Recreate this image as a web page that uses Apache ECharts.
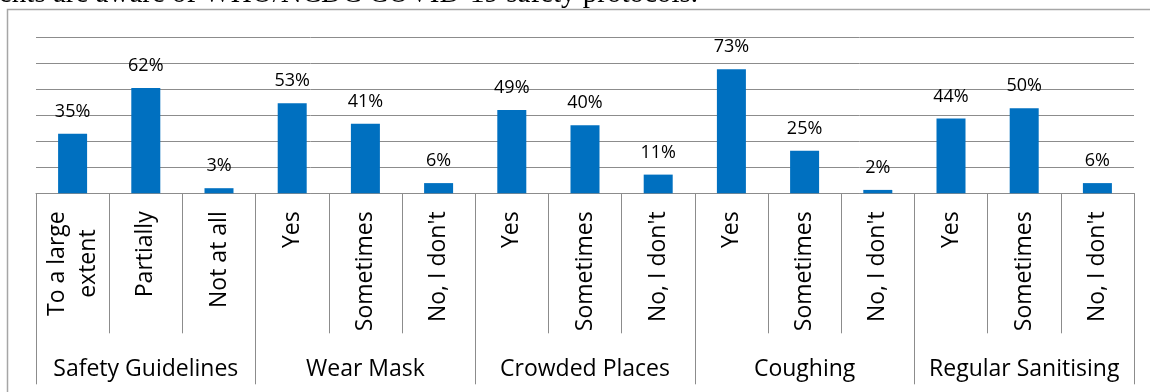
<!DOCTYPE html>
<html>
<head>
<meta charset="utf-8">
<title>COVID-19 safety protocols</title>
<script src="https://cdn.jsdelivr.net/npm/echarts@6/dist/echarts.min.js"></script>
<style>
  html, body { margin: 0; padding: 0; background: #fff; }
  #chart { width: 1150px; height: 392px; }
</style>
</head>
<body>
<div id="chart"></div>
<script>
// Protocol groups and the answers given under each one
const groups = ['Safety Guidelines', 'Wear Mask', 'Crowded Places', 'Coughing', 'Regular Sanitising'];
const answers = [
  'To a large\nextent', 'Partially', 'Not at all',
  'Yes', 'Sometimes', 'No, I don\'t',
  'Yes', 'Sometimes', 'No, I don\'t',
  'Yes', 'Sometimes', 'No, I don\'t',
  'Yes', 'Sometimes', 'No, I don\'t'
];
// Share of respondents (%) for each answer
const shares = [35, 62, 3, 53, 41, 6, 49, 40, 11, 73, 25, 2, 44, 50, 6];

const captionTail = 'ents are aware of WHO/NCDC COVID-19 safety protocols.';

const FONT = '"Open Sans", "Noto Sans", sans-serif';
const GRID_COLOR = '#8c8c8c';

// Wrapped answers get their lines centred on each other
function answerLabel(value) {
  if (value.indexOf('\n') < 0) return value;
  return value.split('\n').map(function (line) { return '{c|' + line + '}'; }).join('\n');
}

const chart = echarts.init(document.getElementById('chart'), null, { renderer: 'canvas' });

chart.setOption({
  animation: false,
  backgroundColor: '#ffffff',
  graphic: [
    {
      type: 'rect',
      shape: { x: 7.5, y: 9.5, width: 1160, height: 420 },
      style: { fill: 'none', stroke: '#a6a6a6', lineWidth: 1.5 },
      silent: true
    },
    {
      // caption line of the surrounding text, clipped by the top edge
      type: 'text',
      x: 698,
      y: -20,
      style: {
        text: captionTail,
        font: '29px "Liberation Serif", "DejaVu Serif", serif',
        fill: '#000',
        align: 'right',
        verticalAlign: 'top'
      },
      silent: true
    }
  ],
  grid: { left: 36, right: 16, top: 37.3, bottom: 198.7 },
  xAxis: [
    {
      type: 'category',
      data: answers,
      boundaryGap: true,
      axisLine: { show: true, lineStyle: { color: GRID_COLOR, width: 1 } },
      axisTick: { show: true, interval: 0, length: 140, lineStyle: { color: GRID_COLOR, width: 1 } },
      axisLabel: {
        interval: 0,
        rotate: 90,
        margin: 18,
        fontFamily: FONT,
        fontSize: 23,
        color: '#000',
        lineHeight: 31,
        formatter: answerLabel,
        rich: {
          c: { align: 'center', fontFamily: FONT, fontSize: 23, color: '#000', lineHeight: 31 }
        }
      }
    },
    {
      type: 'category',
      data: groups,
      position: 'bottom',
      boundaryGap: true,
      axisLine: { show: false },
      axisTick: { show: true, interval: 0, length: 191, lineStyle: { color: GRID_COLOR, width: 1 } },
      axisLabel: {
        interval: 0,
        margin: 165,
        fontFamily: FONT,
        fontSize: 23,
        color: '#000'
      }
    }
  ],
  yAxis: {
    type: 'value',
    min: 0,
    max: 91.8,
    interval: 15.3,
    axisLine: { show: false },
    axisTick: { show: false },
    axisLabel: { show: false },
    splitLine: { show: true, lineStyle: { color: GRID_COLOR, width: 1 } }
  },
  series: [
    {
      type: 'bar',
      xAxisIndex: 0,
      data: shares,
      barWidth: 29,
      itemStyle: { color: '#0070C0' },
      label: {
        show: true,
        position: 'top',
        distance: 13,
        formatter: '{c}%',
        fontFamily: FONT,
        fontSize: 18,
        color: '#000'
      }
    }
  ]
});
</script>
</body>
</html>
